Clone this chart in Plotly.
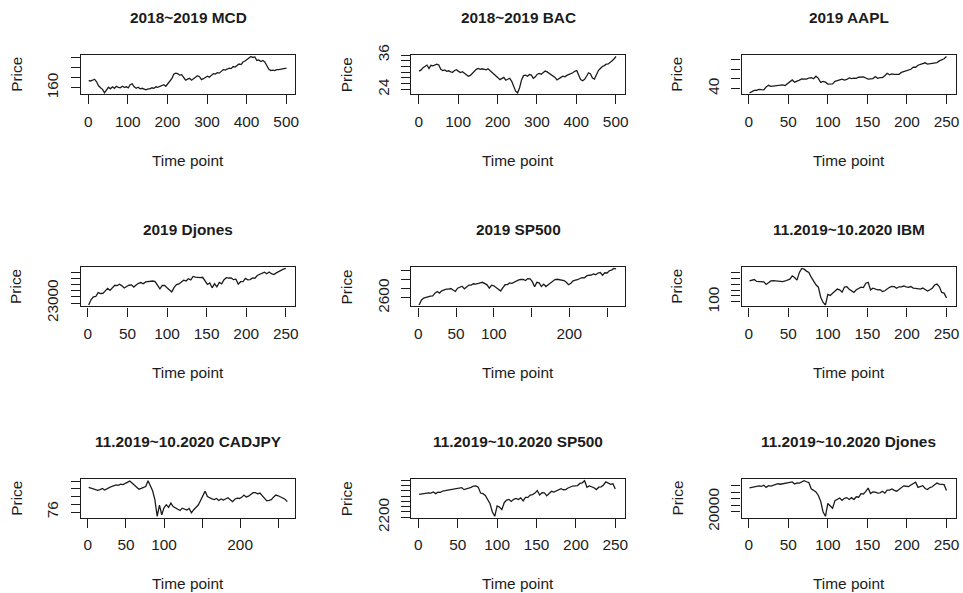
import numpy as np
import plotly.graph_objects as go

# ---------------------------------------------------------------------------
# Closing prices, sampled every few trading days (index = trading day number)
# ---------------------------------------------------------------------------
mcd_n, mcd_step = 503, 5
mcd_price = [
    174.0, 173.5, 175.0, 177.0, 172.0, 164.0, 160.0, 157.0, 150.0, 156.0,
    161.0, 158.0, 162.0, 159.0, 163.0, 161.0, 160.0, 163.0, 161.0, 162.0,
    160.0, 166.0, 168.0, 162.0, 159.0, 161.0, 158.0, 159.0, 157.0, 156.0,
    158.0, 158.0, 160.0, 159.0, 162.0, 161.0, 163.0, 165.0, 166.0, 163.0,
    168.0, 174.0, 178.0, 187.0, 189.0, 188.0, 185.0, 186.0, 181.0, 175.0,
    177.0, 179.0, 175.0, 178.0, 182.0, 184.0, 182.0, 176.0, 178.0, 180.0,
    183.0, 181.0, 185.0, 188.0, 187.0, 190.0, 189.0, 193.0, 196.0, 195.0,
    197.0, 199.0, 198.0, 202.0, 201.0, 204.0, 207.0, 206.0, 211.0, 213.0,
    217.0, 219.0, 222.0, 220.0, 221.0, 214.0, 215.0, 212.0, 214.0, 211.0,
    204.0, 197.0, 194.0, 195.0, 194.0, 196.0, 196.0, 197.0, 197.0, 198.0,
    199.0,
]

bac_n, bac_step = 503, 5
bac_price = [
    30.4, 30.8, 31.6, 32.2, 32.5, 31.3, 32.4, 32.2, 32.6, 32.8,
    32.5, 31.0, 30.6, 30.8, 30.3, 30.5, 30.1, 30.0, 30.6, 30.9,
    30.3, 29.9, 30.2, 29.6, 29.3, 28.6, 28.9, 29.6, 30.4, 31.0,
    31.3, 31.0, 31.2, 31.0, 30.8, 31.2, 30.6, 30.2, 29.5, 28.9,
    28.1, 27.4, 27.9, 28.2, 27.2, 27.5, 27.9, 26.8, 25.1, 23.4,
    22.8, 24.6, 27.3, 28.8, 29.0, 28.6, 29.2, 29.0, 27.9, 28.4,
    29.3, 29.6, 29.3, 29.8, 30.4, 30.1, 29.6, 29.2, 28.9, 28.2,
    27.3, 27.9, 28.2, 28.6, 28.4, 28.9, 29.2, 29.3, 29.8, 30.3,
    30.6, 29.0, 27.4, 27.0, 27.5, 28.6, 29.8, 29.4, 28.0, 27.6,
    29.0, 30.6, 31.3, 32.0, 32.3, 32.8, 32.9, 33.3, 34.0, 34.7,
    35.5,
]

aapl_n, aapl_step = 252, 3
aapl_price = [
    35.6, 37.0, 38.1, 38.3, 39.2, 38.9, 38.7, 41.6, 43.4, 42.4, 42.6, 42.8,
    43.3, 43.3, 43.9, 43.2, 45.4, 47.0, 49.0, 46.7, 47.5, 48.8, 50.0, 49.9,
    49.8, 51.0, 51.4, 50.2, 52.9, 50.7, 46.4, 47.5, 46.7, 44.7, 44.6, 44.9,
    47.5, 48.3, 48.7, 49.9, 48.9, 49.5, 51.1, 50.3, 50.8, 50.7, 51.8, 51.9,
    52.2, 51.0, 49.8, 50.1, 50.4, 52.6, 50.7, 51.4, 51.4, 53.3, 55.9, 54.4,
    55.2, 54.7, 54.7, 54.9, 56.8, 57.5, 58.8, 59.1, 60.1, 62.3, 62.2, 64.3,
    65.0, 66.1, 66.8, 65.5, 66.0, 66.0, 66.4, 67.1, 68.8, 70.0, 71.0, 73.4,
]

djones19_n, djones19_step = 252, 3
djones19_price = [
    22686, 23531, 24001, 24065, 24706, 24554, 24580, 25064, 25391, 25054, 25543, 25891,
    25850, 26058, 25800, 25450, 25700, 25900, 25960, 25600, 25930, 26220, 26340, 26150,
    26450, 26510, 26460, 26590, 26500, 25970, 25320, 25860, 25880, 25490, 25130, 24820,
    25540, 26000, 26110, 26500, 26720, 26600, 26970, 26780, 27330, 27220, 27170, 27140,
    27200, 26580, 26030, 26290, 25480, 26140, 25630, 26360, 26120, 26800, 27140, 27080,
    27090, 26810, 26890, 26080, 26480, 26500, 27020, 26770, 26830, 27090, 27050, 27490,
    27690, 27780, 28040, 27770, 28070, 27780, 27650, 27910, 28130, 28270, 28520, 28640,
]

sp19_n, sp19_step = 263, 3
sp19_price = [
    2448, 2550, 2597, 2610, 2636, 2639, 2644, 2704, 2738, 2706, 2754,
    2776, 2793, 2793, 2804, 2771, 2743, 2811, 2833, 2854, 2798, 2834,
    2879, 2878, 2907, 2900, 2907, 2926, 2939, 2918, 2884, 2812, 2876,
    2864, 2823, 2783, 2752, 2826, 2887, 2889, 2926, 2917, 2942, 2973,
    2990, 3000, 3004, 2977, 3020, 3013, 2954, 2844, 2938, 2926, 2848,
    2900, 2847, 2888, 2926, 2976, 3000, 3006, 2992, 2977, 2977, 2940,
    2887, 2919, 2970, 2989, 2996, 3022, 3039, 3037, 3078, 3093, 3097,
    3120, 3104, 3141, 3153, 3093, 3146, 3142, 3191, 3205, 3240, 3231,
]

ibm_n, ibm_step = 252, 3
ibm_price = [
    135.5, 136.2, 137.7, 134.5, 133.9, 134.3, 133.9, 129.4, 133.0, 135.4, 135.8, 135.3,
    135.4, 134.2, 134.3, 135.3, 136.6, 138.3, 143.9, 141.2, 136.8, 149.8, 156.5, 155.3,
    152.0, 149.9, 141.7, 134.3, 128.9, 124.8, 107.9, 99.0, 94.8, 112.6, 110.9, 114.4,
    118.8, 121.7, 120.4, 116.4, 125.0, 125.6, 121.4, 118.9, 116.0, 120.4, 122.6, 124.9,
    124.2, 131.6, 133.0, 120.3, 123.2, 121.6, 120.2, 120.8, 117.6, 118.8, 122.3, 124.6,
    126.0, 125.8, 122.9, 125.5, 125.5, 126.8, 125.2, 124.6, 125.9, 123.3, 122.9, 122.1,
    121.7, 123.4, 120.6, 118.2, 120.5, 123.1, 128.5, 130.0, 125.5, 116.0, 114.8, 106.7,
]

cadjpy_n, cadjpy_step = 262, 3
cadjpy_price = [
    82.4, 82.2, 82.0, 81.9, 81.6, 81.8, 82.1, 81.7, 81.9, 82.3, 82.6, 82.8,
    83.0, 82.9, 83.2, 83.1, 83.4, 83.5, 84.0, 83.5, 83.0, 82.5, 81.9, 82.1,
    82.3, 82.6, 84.1, 83.0, 81.5, 79.2, 74.9, 77.8, 75.3, 77.1, 77.9, 77.2,
    78.3, 77.4, 77.0, 76.8, 76.4, 77.0, 76.8, 76.5, 76.9, 75.8, 76.6, 77.1,
    77.8, 79.0, 80.2, 81.4, 80.0, 79.6, 79.4, 79.2, 79.5, 79.0, 79.4, 79.1,
    79.3, 79.7, 79.2, 78.7, 79.3, 79.6, 79.5, 79.8, 80.4, 79.9, 80.1, 80.6,
    81.0, 81.0, 80.7, 80.9, 80.2, 79.6, 78.9, 79.0, 79.2, 79.9, 80.4, 80.2,
    79.9, 79.5, 79.3, 78.7,
]

sp20_n, sp20_step = 252, 3
sp20_price = [
    3067, 3085, 3091, 3121, 3120, 3110, 3153, 3093, 3146, 3142, 3191, 3205,
    3223, 3222, 3235, 3253, 3288, 3316, 3321, 3244, 3284, 3298, 3328, 3379,
    3386, 3338, 3116, 3090, 3024, 2882, 2711, 2398, 2237, 2630, 2585, 2489,
    2750, 2846, 2875, 2799, 2878, 2912, 2868, 2930, 2820, 2954, 2948, 3036,
    3056, 3112, 3207, 3041, 3125, 3118, 3009, 3100, 3180, 3152, 3198, 3224,
    3276, 3239, 3246, 3306, 3351, 3380, 3389, 3397, 3478, 3500, 3580, 3331,
    3383, 3357, 3316, 3246, 3335, 3348, 3419, 3534, 3483, 3443, 3465, 3271,
]

djones20_n, djones20_step = 252, 3
djones20_price = [
    27347, 27492, 27691, 27781, 27934, 27821, 28164, 27502, 28015, 27911, 28135, 28377,
    28621, 28462, 28634, 28745, 28907, 29030, 29186, 28536, 28860, 28808, 29103, 29551,
    29232, 28992, 27081, 26703, 26121, 25018, 23186, 19899, 18592, 22552, 21917, 21053,
    23434, 23950, 24242, 23475, 24134, 24345, 23750, 24331, 23764, 24597, 24474, 25549,
    25475, 26270, 27272, 25606, 26120, 26025, 25745, 25813, 26287, 25706, 26643, 26672,
    27006, 26585, 26314, 26828, 27433, 27977, 27845, 27740, 28249, 28654, 29100, 27501,
    27666, 28032, 27148, 26815, 27452, 27683, 28303, 28838, 28494, 28308, 28336, 26520,
]

titles = [
    "2018~2019 MCD", "2018~2019 BAC", "2019 AAPL",
    "2019 Djones", "2019 SP500", "11.2019~10.2020 IBM",
    "11.2019~10.2020 CADJPY", "11.2019~10.2020 SP500", "11.2019~10.2020 Djones",
]
series = [
    (mcd_n, mcd_step, mcd_price),
    (bac_n, bac_step, bac_price),
    (aapl_n, aapl_step, aapl_price),
    (djones19_n, djones19_step, djones19_price),
    (sp19_n, sp19_step, sp19_price),
    (ibm_n, ibm_step, ibm_price),
    (cadjpy_n, cadjpy_step, cadjpy_price),
    (sp20_n, sp20_step, sp20_price),
    (djones20_n, djones20_step, djones20_price),
]

# y ticks and the labels that remain visible (the rest are suppressed)
y_tick_vals = [
    [160, 180, 200, 220],
    [24, 26, 28, 30, 32, 34, 36],
    [40, 50, 60, 70],
    [23000, 24000, 25000, 26000, 27000, 28000],
    [2600, 2800, 3000, 3200],
    [100, 110, 120, 130, 140, 150],
    [76, 78, 80, 82, 84],
    [2200, 2400, 2600, 2800, 3000, 3200, 3400, 3600],
    [20000, 22000, 24000, 26000, 28000],
]
y_tick_text = [
    ["160", "", "", ""],
    ["24", "", "", "", "", "", "36"],
    ["40", "", "", ""],
    ["23000", "", "", "", "", ""],
    ["2600", "", "", ""],
    ["100", "", "", "", "", ""],
    ["76", "", "", "", ""],
    ["2200", "", "", "", "", "", "", ""],
    ["20000", "", "", "", ""],
]
x_long_vals = [0, 100, 200, 300, 400, 500]
x_short_vals = [0, 50, 100, 150, 200, 250]
x_short_sparse = ["0", "50", "100", "", "200", ""]
x_tick_vals = [x_long_vals, x_long_vals] + [x_short_vals] * 7
x_tick_text = (
    [[str(v) for v in x_long_vals]] * 2
    + [[str(v) for v in x_short_vals]] * 2
    + [x_short_sparse]
    + [[str(v) for v in x_short_vals]]
    + [x_short_sparse]
    + [[str(v) for v in x_short_vals]] * 2
)

# ---------------------------------------------------------------------------
# Layout: 3 x 3 grid of small boxed panels (pixel geometry of plot boxes)
# ---------------------------------------------------------------------------
W, H = 963, 593
col_px = [(80.7, 295.3), (411.2, 624.8), (741.6, 956.0)]
row_px = [(55.0, 94.3), (267.0, 306.4), (479.3, 517.7)]

FONT = "Liberation Sans, Arial, Helvetica, sans-serif"
INK = "#1c1c1c"
FS = 15.4

fig = go.Figure()
annotations = []
layout_axes = {}

for i, (title, (n, step, vals)) in enumerate(zip(titles, series)):
    r, c = divmod(i, 3)
    left, right = col_px[c]
    top, bottom = row_px[r]
    k = i + 1
    xa = "x" if k == 1 else f"x{k}"
    ya = "y" if k == 1 else f"y{k}"

    t = np.arange(1, n + 1, step)
    m = min(len(t), len(vals))
    y = np.asarray(vals[:m], dtype=float)
    fig.add_trace(go.Scatter(
        x=t[:m], y=y, mode="lines", xaxis=xa, yaxis=ya,
        line=dict(color=INK, width=1.3), hoverinfo="skip", showlegend=False,
    ))

    # R-style 4% padding on both axes
    xpad = 0.04 * (n - 1)
    ypad = 0.04 * (y.max() - y.min())
    common = dict(
        showgrid=False, zeroline=False, showline=True, mirror=True,
        automargin=False,
        linecolor=INK, linewidth=1.3, ticks="outside", ticklen=9,
        tickwidth=1.2, tickcolor=INK,
        tickfont=dict(family=FONT, size=FS, color=INK),
    )
    layout_axes["xaxis" if k == 1 else f"xaxis{k}"] = dict(
        domain=[left / W, right / W], anchor=ya,
        range=[1 - xpad, n + xpad], tickmode="array",
        tickvals=x_tick_vals[i], ticktext=x_tick_text[i], tickangle=0,
        ticklabelstandoff=4, **common,
    )
    layout_axes["yaxis" if k == 1 else f"yaxis{k}"] = dict(
        domain=[1 - bottom / H, 1 - top / H], anchor=xa,
        range=[y.min() - ypad, y.max() + ypad], tickmode="array",
        tickvals=y_tick_vals[i], ticktext=y_tick_text[i], tickangle=-90,
        ticklabelstandoff=6, **common,
    )

    cx = (left + right) / 2
    cy = (top + bottom) / 2
    annotations += [
        dict(text=f"<b>{title}</b>", x=cx / W, y=1 - (top - 37.7) / H,
             xref="paper", yref="paper", xanchor="center", yanchor="middle",
             showarrow=False, font=dict(family=FONT, size=FS, color=INK)),
        dict(text="Time point", x=cx / W, y=1 - (bottom + 66) / H,
             xref="paper", yref="paper", xanchor="center", yanchor="middle",
             showarrow=False, font=dict(family=FONT, size=FS, color=INK)),
        dict(text="Price", x=(left - 64.5) / W, y=1 - cy / H, textangle=-90,
             xref="paper", yref="paper", xanchor="center", yanchor="middle",
             showarrow=False, font=dict(family=FONT, size=FS, color=INK)),
    ]

fig.update_layout(
    template="none",
    width=W, height=H, autosize=False,
    margin=dict(l=0, r=0, t=0, b=0, autoexpand=False),
    paper_bgcolor="white", plot_bgcolor="white",
    annotations=annotations, showlegend=False,
    **layout_axes,
)

fig.write_html("out.html")
